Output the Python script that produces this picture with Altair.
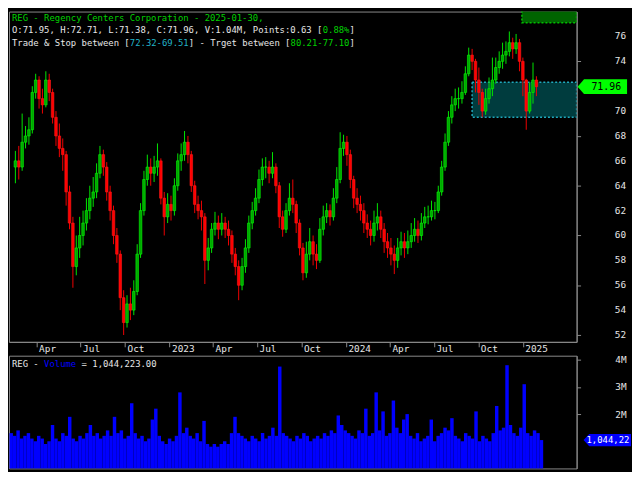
import altair as alt
import pandas as pd
import numpy as np

# ---------------- data ----------------
TICKER = "REG"
COMPANY = "Regency Centers Corporation"
LAST_DATE = "2025-01-30"
last_open, last_high, last_low, last_close = 71.95, 72.71, 71.38, 71.96
last_volume = 1044223.00
points, pct = 0.63, 0.88
trade_range = ("72.32", "69.51")
target_range = ("80.21", "77.10")
trade_box_start = "2024-09-18"
target_box_start = "2024-12-30"

first_week = "2022-02-14"
first_open = 65.5

closes = [
    66, 65.5, 67.5, 68, 68.5, 71.5, 72.5, 71, 70.5, 72.5,
    71.5, 69.5, 68, 67, 66.5, 63.5, 61, 57.5, 59, 60,
    61, 62, 63, 63.5, 65, 66.5, 65.5, 63.5, 62, 60,
    58.5, 55, 53, 54.5, 54, 55.5, 58.5, 62, 64.5, 65.5,
    65, 65.5, 66, 63, 61.5, 62.5, 62, 64, 66, 66.5,
    67.5, 66.5, 64, 62.5, 62, 61.5, 58, 59, 60.5, 61,
    60.5, 61, 60.5, 60, 58.5, 57.5, 56, 57.5, 59, 61,
    62, 63, 64.5, 65.5, 65.5, 65, 65.5, 64, 61.5, 60.5,
    62, 63, 62.5, 61, 59, 57, 58.5, 59.5, 58.5, 58,
    60.5, 61.5, 62, 61.5, 63, 64.5, 67, 67.5, 66.5, 64.5,
    63, 62.5, 62, 61, 60.5, 60, 61, 61.5, 60.5, 59.5,
    59, 58.5, 58, 59, 59.5, 59, 59.5, 60, 60.5, 60,
    61, 61.5, 61.5, 62, 62, 63.5, 65.5, 67.5, 69.5, 70.5,
    71, 71, 71.5, 73, 74.5, 74, 72.5, 71.5, 70, 71,
    71.8, 72.5, 73.5, 74, 74.5, 74.8, 75.5, 75, 75.5, 74,
    72.5, 70, 71.5, 72.5, 71.96,
]
highs = [
    66.8, 67.2, 69.8, 68.8, 69.5, 72, 73, 72.8, 71.8, 73.2,
    73, 71.8, 70, 69, 67.8, 66.8, 64, 61.5, 60, 61.5,
    62, 63, 64, 64.7, 65.8, 67.2, 66.9, 65.9, 64, 62.4,
    60.6, 58.8, 55.6, 55.2, 55.8, 56.4, 59.3, 62.6, 65.2, 66.5,
    66.2, 66.4, 67.4, 66.2, 63.5, 63.4, 63.2, 64.6, 66.6, 67.4,
    68.4, 68, 66.8, 64.4, 63.2, 62.8, 61.8, 59.8, 61, 61.9,
    61.6, 61.8, 61.5, 61.2, 60.4, 59, 58, 58.2, 59.7, 61.6,
    62.7, 63.8, 65.3, 66.2, 66.3, 66, 66.7, 65.8, 64.3, 62,
    62.6, 64.2, 64.5, 62.8, 61.3, 59.4, 59.5, 60.6, 60, 59.3,
    61.4, 62.4, 62.6, 62.5, 63.8, 65.5, 68.3, 68.1, 68, 66.9,
    64.8, 63.8, 63.2, 62.6, 61.7, 61.2, 62, 62.6, 62, 61,
    60.2, 59.8, 59.2, 59.8, 60.3, 60.2, 60.4, 61, 61.4, 61.2,
    61.8, 62.3, 62.4, 62.8, 62.7, 64, 66, 68.2, 70, 71.2,
    71.8, 71.9, 72.4, 73.6, 75.1, 75, 74.2, 73.5, 71.8, 71.8,
    72.7, 74.3, 74.3, 74.8, 75.5, 75.6, 76.4, 75.9, 76.2, 75.8,
    74.3, 72.6, 72.3, 73.9, 72.8,
]
lows = [
    64.2, 64.5, 65.2, 67, 67.3, 68.2, 71, 70.2, 69.8, 70.3,
    70.8, 69, 67.2, 66.3, 65.2, 62.4, 60.5, 55.8, 56.8, 58.2,
    59.2, 60.4, 61.3, 62.3, 63, 64.6, 64.8, 62.8, 61.2, 59.3,
    57.8, 54, 52, 52.6, 53.2, 53.6, 55.2, 58.2, 61.6, 64,
    64, 64.3, 64.8, 62.5, 60, 61, 61.2, 61.6, 63.6, 65.2,
    66, 65.8, 63.5, 61.8, 61.3, 60.4, 56.1, 57.2, 58.6, 60,
    59.7, 60, 59.8, 59.2, 57.8, 56.8, 54.8, 55.6, 57, 58.6,
    60.5, 61.6, 62.6, 64, 64.6, 64.2, 64.6, 63.4, 60.6, 59.9,
    60.2, 61.6, 61.8, 60.2, 58.4, 56.4, 56.6, 58, 57.6, 57.3,
    57.8, 60, 61, 60.8, 61.2, 62.6, 64.2, 66.4, 65.6, 63.8,
    62.2, 61.8, 61.2, 60.2, 59.8, 59.2, 59.5, 60.4, 59.8, 58.6,
    58.2, 57.6, 56.9, 57.4, 58.4, 58.2, 58.5, 59, 59.5, 59.4,
    59.6, 60.6, 60.9, 61.2, 61.3, 61.8, 63.2, 65.2, 67.2, 69,
    70, 70.2, 70.6, 71.3, 72.8, 73.3, 71.5, 70.5, 69.5, 69.7,
    70.6, 71.2, 72.2, 73, 73.4, 73.8, 74.4, 74.2, 74.6, 73.2,
    71.2, 68.5, 69.8, 70.6, 71.2,
]
volumes_m = [
    1.3, 1.2, 1.4, 1.1, 1.2, 1.3, 1.1, 1.0, 1.2, 1.1,
    0.9, 1.0, 1.6, 1.1, 1.0, 1.3, 1.2, 1.9, 1.1, 1.0,
    1.2, 1.1, 1.3, 1.6, 1.2, 1.3, 1.1, 1.2, 1.4, 1.2,
    1.9, 1.3, 1.4, 1.1, 1.2, 2.4, 1.3, 1.1, 1.2, 1.0,
    1.1, 1.8, 2.2, 1.2, 1.0, 0.9, 1.1, 1.0, 1.2, 2.8,
    1.3, 1.5, 1.2, 1.1, 1.3, 1.0, 1.75, 0.9, 0.8, 0.9,
    0.8, 0.9, 1.0, 0.9, 1.3, 1.9, 1.3, 1.2, 1.1, 1.0,
    1.2, 1.1, 1.0, 1.3, 1.1, 1.2, 1.5, 1.2, 3.75, 1.3,
    1.2, 1.1, 1.0, 1.2, 1.1, 1.3, 1.2, 1.0, 1.1, 1.2,
    1.1, 1.3, 1.2, 1.4, 1.3, 1.95, 1.6, 1.4, 1.3, 1.2,
    1.1, 1.4, 1.3, 2.2, 1.2, 1.3, 2.8, 1.4, 2.1, 1.2,
    1.3, 2.5, 1.5, 1.3, 1.8, 2.0, 1.2, 1.1, 1.3, 1.0,
    1.1, 1.2, 1.8, 1.0, 1.2, 1.3, 1.5, 1.4, 1.85, 1.2,
    1.1, 1.0, 1.3, 1.2, 1.1, 2.1, 1.0, 1.2, 1.1, 1.0,
    1.3, 2.3, 1.4, 1.5, 3.8, 1.6, 1.3, 1.2, 1.5, 3.1,
    1.3, 1.2, 1.4, 1.3, 1.044223,
]
price_ticks = [52, 54, 56, 58, 60, 62, 64, 66, 68, 70, 74, 76]
vol_ticks = [2e6, 3e6, 4e6]
date_ticks = [(2022, 4), (2022, 7), (2022, 10), (2023, 1), (2023, 4), (2023, 7), (2023, 10),
              (2024, 1), (2024, 4), (2024, 7), (2024, 10), (2025, 1)]

# ---------------- layout ----------------
W, H1, H2 = 574, 334, 114
FONT = "DejaVu Sans Mono"
FS = 9
AFS = 9.5
CW = FS * 0.602
WHITE, GREEN, CYAN, BLUE = "#e6e6e6", "#00d000", "#22b4c8", "#0000ff"
GRAY = "#8a8a8a"

n = len(closes)
weeks = pd.date_range(first_week, periods=n, freq="7D")
df = pd.DataFrame({
    "week": weeks,
    "mid": weeks + pd.Timedelta(days=2),
    "end": weeks + pd.Timedelta(days=7),
    "open": [first_open] + closes[:-1],
    "close": closes,
    "high": highs,
    "low": lows,
    "volume": [v * 1e6 for v in volumes_m],
})
df["dir"] = np.where(df["close"] >= df["open"], "up", "down")

xdom = [alt.DateTime(year=2022, month=2, date=13), alt.DateTime(year=2025, month=4, date=12)]
xscale = alt.Scale(domain=xdom, nice=False)
pscale = alt.Scale(domain=[51.45, 78.0], nice=False, zero=False)
vscale = alt.Scale(domain=[0, 4.15e6], nice=False)

date_axis = alt.Axis(
    title=None, grid=False, orient="bottom",
    values=[alt.DateTime(year=y, month=m, date=1) for y, m in date_ticks],
    labelExpr="month(datum.value) == 0 ? timeFormat(datum.value, '%Y') : timeFormat(datum.value, '%b')",
    labelAlign="left", labelOffset=2, labelPadding=-3, tickSize=5,
    labelFont=FONT, labelFontSize=AFS, labelColor=WHITE,
    tickColor=GRAY, domainColor=GRAY, labelOverlap=False, labelFlush=False,
)
price_axis = alt.Axis(
    title=None, grid=False, orient="right", values=price_ticks, labels=False,
    tickSize=4, tickColor=GRAY, domainColor=GRAY,
)
vol_axis = alt.Axis(
    title=None, grid=False, orient="right", values=vol_ticks,
    labelExpr="format(datum.value / 1e6, 'd') + 'M'",
    tickSize=4, labelAlign="right", labelPadding=46, labelOverlap=False, labelBound=False,
    labelFont=FONT, labelFontSize=AFS, labelColor=WHITE,
    tickColor=GRAY, domainColor=GRAY,
)

dir_color = alt.Color("dir:N", scale=alt.Scale(domain=["up", "down"], range=["#00e600", "#f00000"]), legend=None)
dir_fill = alt.Fill("dir:N", scale=alt.Scale(domain=["up", "down"], range=["#00a800", "#ff0000"]), legend=None)
dir_stroke = alt.Stroke("dir:N", scale=alt.Scale(domain=["up", "down"], range=["#00ff00", "#ff1a1a"]), legend=None)

base = alt.Chart(df)

boxes = pd.DataFrame({
    "start": [pd.Timestamp(trade_box_start), pd.Timestamp(target_box_start)],
    "top": [float(trade_range[0]), float(target_range[0])],
    "bottom": [float(trade_range[1]), float(target_range[1])],
    "kind": ["trade", "target"],
})
trade_box = alt.Chart(boxes[boxes.kind == "trade"]).mark_rect(
    fill="#003c3e", stroke="#1fa9bd", strokeDash=[2, 2], strokeWidth=1.5, clip=True
).encode(x=alt.X("start:T", scale=xscale, axis=date_axis), x2=alt.value(W),
         y=alt.Y("top:Q", scale=pscale, axis=price_axis), y2="bottom:Q")
target_box = alt.Chart(boxes[boxes.kind == "target"]).mark_rect(
    fill="#006400", stroke="#00c000", strokeDash=[2, 2], strokeWidth=1.5, clip=True
).encode(x=alt.X("start:T", scale=xscale, axis=date_axis), x2=alt.value(W),
         y=alt.Y("top:Q", scale=pscale, axis=price_axis), y2="bottom:Q")

wicks = base.mark_rule(strokeWidth=1).encode(
    x=alt.X("mid:T", scale=xscale, axis=date_axis), y=alt.Y("low:Q", scale=pscale, axis=price_axis),
    y2="high:Q", color=dir_color)
bodies = base.mark_bar(size=2.6, strokeWidth=0.6).encode(
    x=alt.X("mid:T", scale=xscale, axis=date_axis), y=alt.Y("open:Q", scale=pscale, axis=price_axis),
    y2="close:Q", fill=dir_fill, stroke=dir_stroke)

# right-hand price labels, placed through the price scale
ptick_df = pd.DataFrame({"p": price_ticks, "label": [str(v) for v in price_ticks]})
price_labels = alt.Chart(ptick_df).mark_text(
    align="right", baseline="middle", font=FONT, fontSize=AFS, color=WHITE
).encode(x=alt.value(W + 50), y=alt.Y("p:Q", scale=pscale, axis=price_axis), text="label:N")

dummy = pd.DataFrame({"a": [0]})


def text_line(parts, y, x0=3):
    layers = []
    x = x0
    for t, c in parts:
        lead = len(t) - len(t.lstrip(" "))
        layers.append(
            alt.Chart(dummy).mark_text(align="left", baseline="middle", font=FONT, fontSize=FS, color=c)
            .encode(x=alt.value(x + lead * CW), y=alt.value(y), text=alt.value(t.strip(" ")))
        )
        x += len(t) * CW
    return layers


line1 = [(f"{TICKER} - {COMPANY} - {LAST_DATE},", GREEN)]
line2 = [
    (f"O:{last_open:.2f}, H:{last_high:.2f}, L:{last_low:.2f}, C:{last_close:.2f}, "
     f"V:{last_volume / 1e6:.2f}M, Points:{points:.2f} [", WHITE),
    (f"{pct:.2f}%", GREEN), ("]", WHITE),
]
line3 = [
    ("Trade & Stop between [", WHITE), (f"{trade_range[0]}-{trade_range[1]}", CYAN),
    ("] - Trget between [", WHITE), (f"{target_range[0]}-{target_range[1]}", GREEN), ("]", WHITE),
]
header = text_line(line1, 6.5) + text_line(line2, 19) + text_line(line3, 31.5)

tag_path = "M -1 0 L -0.74 -0.298 L 1 -0.298 L 1 0.298 L -0.74 0.298 Z"
price_tag = alt.Chart(dummy).mark_point(shape=tag_path, filled=True, size=50 * 50, color="#00ff00",
                                        opacity=1, strokeWidth=0).encode(
    x=alt.value(W + 26), y=alt.datum(last_close))
price_tag_text = alt.Chart(dummy).mark_text(font=FONT, fontSize=FS + 1, color="black", align="center",
                                            baseline="middle").encode(
    x=alt.value(W + 30), y=alt.datum(last_close), text=alt.value(f"{last_close:.2f}"))

price = alt.layer(trade_box, target_box, wicks, bodies, *header, price_labels,
                  price_tag, price_tag_text).properties(width=W, height=H1)

bars = base.mark_bar(color=BLUE, strokeWidth=0).encode(
    x=alt.X("week:T", scale=xscale, axis=None), x2="end:T",
    y=alt.Y("volume:Q", scale=vscale, axis=vol_axis), y2=alt.datum(0))
vol_label = text_line([(f"{TICKER} - ", WHITE), ("Volume", BLUE),
                       (f" = {last_volume:,.2f}", WHITE)], 8)
vtag_path = "M -1 0 L -0.76 -0.26 L 1 -0.26 L 1 0.26 L -0.76 0.26 Z"
vol_tag = alt.Chart(dummy).mark_point(shape=vtag_path, filled=True, size=48 * 48, color=BLUE,
                                      opacity=1, strokeWidth=0).encode(
    x=alt.value(W + 31), y=alt.datum(last_volume))
vol_tag_text = alt.Chart(dummy).mark_text(font=FONT, fontSize=FS, color="white", align="left",
                                          baseline="middle").encode(
    x=alt.value(W + 10), y=alt.datum(last_volume), text=alt.value(f"{last_volume:,.2f}"[:8]))

volume = alt.layer(bars, *vol_label, vol_tag, vol_tag_text).properties(width=W, height=H2)

chart = alt.vconcat(price, volume, spacing=0).properties(padding=0).configure(
    background="black"
).configure_view(stroke=GRAY, strokeWidth=1)

chart.save("out.html", embed_options={"renderer": "svg", "actions": False})
